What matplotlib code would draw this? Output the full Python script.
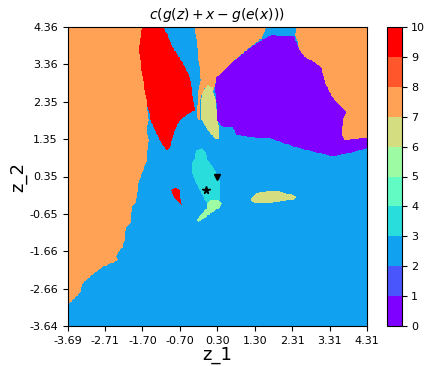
import numpy as np
import matplotlib
matplotlib.use("Agg")
import matplotlib.pyplot as plt
from matplotlib.colors import ListedColormap, BoundaryNorm
from matplotlib.path import Path

# axis range and tick labels
x_range = (-3.69, 4.31)
y_range = (-3.64, 4.36)
x_tick_labels = ["-3.69", "-2.71", "-1.70", "-0.70", "0.30", "1.30", "2.31", "3.31", "4.31"]
y_tick_labels = ["-3.64", "-2.66", "-1.66", "-0.65", "0.35", "1.35", "2.35", "3.36", "4.36"]

background_class = 2

# decision regions (class, boundary outline in data units), painted in order
orange_left = [(-3.69, 4.36), (-1.68, 4.36), (-1.73, 4.20), (-1.78, 3.74), (-1.71, 3.21), (-1.57, 2.33),
               (-1.52, 1.87), (-1.57, 1.60), (-1.52, 1.34), (-1.57, 0.80), (-1.76, 0.27), (-1.81, 0.08),
               (-1.86, -0.35), (-1.98, -0.46), (-2.00, -0.88), (-2.11, -0.99), (-2.16, -1.15),
               (-2.16, -1.34), (-2.22, -1.53), (-2.34, -1.69), (-2.40, -1.79), (-2.32, -1.87),
               (-2.74, -2.06), (-2.96, -2.22), (-3.28, -2.49), (-3.36, -2.76), (-3.62, -3.02),
               (-3.69, -3.13)]
red_big = [(-1.68, 4.36), (-1.14, 4.36), (-1.04, 4.20), (-0.88, 3.82), (-0.61, 3.40), (-0.42, 3.02),
           (-0.34, 2.49), (-0.29, 2.14), (-0.42, 2.06), (-0.69, 1.87), (-0.82, 1.60), (-0.96, 1.12),
           (-1.04, 1.07), (-1.18, 1.26), (-1.31, 1.52), (-1.44, 1.79), (-1.57, 2.33), (-1.71, 3.21),
           (-1.78, 3.74), (-1.73, 4.20)]
orange_mid = [(-0.29, 4.36), (1.62, 4.36), (1.50, 4.07), (1.09, 3.74), (0.72, 3.43), (0.46, 3.16),
              (0.29, 3.00), (0.22, 2.67), (-0.02, 2.73), (-0.16, 2.41), (-0.16, 1.87), (-0.24, 1.93),
              (-0.21, 2.49), (-0.14, 2.94), (-0.16, 3.29), (-0.21, 3.66), (-0.24, 4.01)]
yellow_top = [(0.06, 2.81), (0.19, 2.73), (0.27, 2.41), (0.32, 2.01), (0.35, 1.60), (0.35, 1.36),
              (0.27, 1.36), (0.06, 1.60), (-0.10, 1.87), (-0.13, 2.27), (-0.08, 2.62)]
orange_right = [(2.43, 4.36), (4.31, 4.36), (4.31, 1.39), (3.71, 1.34), (3.63, 1.47), (3.66, 1.87),
                (3.76, 2.09), (3.63, 2.22), (3.44, 2.41), (3.31, 2.62), (3.18, 2.89), (3.10, 3.26),
                (2.91, 3.42), (2.64, 3.56), (2.51, 3.74), (2.40, 4.15)]
purple = [(1.18, 3.80), (1.50, 4.01), (1.76, 4.15), (2.11, 4.12), (2.35, 4.12), (2.51, 3.74),
          (2.64, 3.56), (2.91, 3.42), (3.10, 3.26), (3.18, 2.89), (3.31, 2.62), (3.44, 2.41),
          (3.63, 2.22), (3.76, 2.09), (3.66, 1.87), (3.63, 1.47), (3.71, 1.34), (4.31, 1.39),
          (4.31, 1.12), (3.84, 0.99), (3.39, 0.91), (3.04, 0.99), (2.51, 1.12), (2.06, 1.26),
          (1.71, 1.39), (1.18, 1.42), (0.83, 1.47), (0.72, 1.68), (0.46, 1.68), (0.30, 1.87),
          (0.30, 2.33), (0.24, 2.75), (0.30, 3.02), (0.46, 3.16), (0.72, 3.43)]
cyan = [(-0.24, 1.07), (-0.10, 1.12), (0.00, 1.02), (0.06, 0.80), (0.16, 0.67), (0.30, 0.45),
        (0.38, 0.19), (0.40, -0.08), (0.40, -0.27), (0.16, -0.35), (0.03, -0.35), (-0.10, -0.11),
        (-0.24, 0.16), (-0.34, 0.40), (-0.37, 0.69), (-0.29, 0.86)]
green = [(0.03, -0.35), (0.16, -0.27), (0.32, -0.27), (0.43, -0.35), (0.38, -0.48), (0.19, -0.59),
         (-0.02, -0.75), (-0.18, -0.86), (-0.24, -0.80), (-0.08, -0.62), (0.03, -0.48)]
yellow_blob = [(1.22, -0.22), (1.36, -0.08), (1.62, -0.05), (1.98, -0.05), (2.24, -0.11), (2.46, -0.19),
               (2.32, -0.27), (1.98, -0.31), (1.62, -0.35), (1.36, -0.35), (1.22, -0.31)]
red_small = [(-0.91, 0.00), (-0.82, 0.05), (-0.69, 0.00), (-0.67, -0.18), (-0.64, -0.40),
             (-0.78, -0.27), (-0.88, -0.14)]

regions = [(7, orange_left), (9, red_big), (7, orange_mid), (6, yellow_top), (7, orange_right),
           (0, purple), (3, cyan), (5, green), (6, yellow_blob), (9, red_small)]

# highlighted points
star_point = (0.0, 0.0)
triangle_point = (0.30, 0.35)

# grid of class labels
n = 400
xs = np.linspace(x_range[0], x_range[1], n)
ys = np.linspace(y_range[0], y_range[1], n)
XX, YY = np.meshgrid(xs, ys)
pts = np.column_stack([XX.ravel(), YY.ravel()])
labels = np.full(XX.shape, float(background_class))
for cls, poly in regions:
    inside = Path(poly).contains_points(pts).reshape(XX.shape)
    labels[inside] = cls

cmap = ListedColormap(plt.cm.rainbow(np.linspace(0, 1, 10)))
norm = BoundaryNorm(np.arange(11), 10)

fig = plt.figure(figsize=(4.26, 3.66), dpi=100)
ax = fig.add_axes([67.5 / 426, 40 / 366, 299.5 / 426, 299 / 366])
mesh = ax.pcolormesh(xs, ys, labels + 0.5, cmap=cmap, norm=norm, shading="nearest", rasterized=True)
ax.plot([star_point[0]], [star_point[1]], marker="*", color="black", markersize=5.5, linestyle="none")
ax.plot([triangle_point[0]], [triangle_point[1]], marker="v", color="black", markersize=4.5, linestyle="none")
ax.set_xlim(*x_range)
ax.set_ylim(*y_range)
ax.set_xticks(np.linspace(x_range[0], x_range[1], 9))
ax.set_xticklabels(x_tick_labels, fontsize=8)
ax.set_yticks(np.linspace(y_range[0], y_range[1], 9))
ax.set_yticklabels(y_tick_labels, fontsize=8)
ax.set_xlabel("z_1", fontsize=13, labelpad=0)
ax.set_ylabel("z_2", fontsize=13, labelpad=1)
ax.set_title(r"$c(g(z)+x-g(e(x)))$", fontsize=10)

cax = fig.add_axes([387 / 426, 40 / 366, 14.5 / 426, 299 / 366])
cb = fig.colorbar(mesh, cax=cax, ticks=np.arange(11))
cb.ax.tick_params(labelsize=8)

fig.savefig("out.png", dpi=100)
